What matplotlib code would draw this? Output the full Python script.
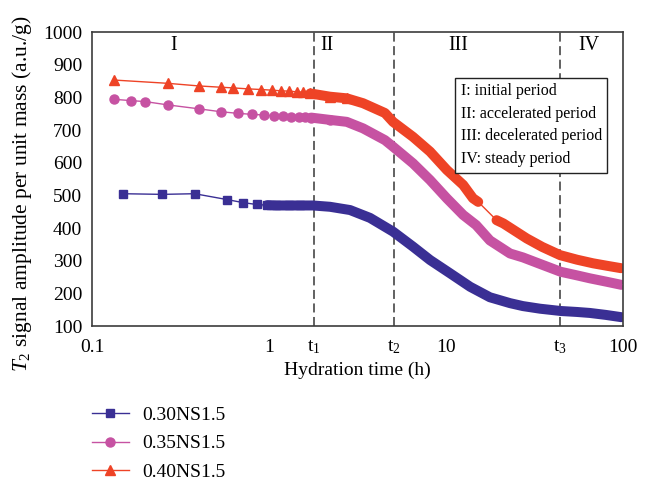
import numpy as np
import matplotlib.pyplot as plt
from matplotlib.lines import Line2D

plt.rcParams['font.family'] = ['Liberation Serif', 'DejaVu Serif']
plt.rcParams['mathtext.fontset'] = 'custom'
plt.rcParams['mathtext.rm'] = 'Liberation Serif'
plt.rcParams['mathtext.it'] = 'Liberation Serif:italic'

# values (hydration time in h, amplitude in a.u./g)
t30 = [0.149, 0.25, 0.38, 0.58, 0.71, 0.85, 0.98, 1.1, 1.3, 1.5, 1.77, 2.21, 2.87, 3.72,
       5.02, 6.51, 8.13, 10.5, 13.7, 17.7, 23.0, 27.2, 34, 44.5, 55, 65, 80, 98]
v30 = [505, 503, 505, 487, 478, 472, 470, 469, 469, 469, 469, 465, 455, 431,
       389, 343, 302, 262, 220, 188, 170, 161, 153, 146, 143, 140, 134, 127]

t35 = [0.133, 0.166, 0.2, 0.267, 0.4, 0.533, 0.667, 0.8, 0.933, 1.067, 1.2, 1.33, 1.47, 1.6,
       1.73, 2.21, 2.75, 3.40, 4.52, 5.02, 6.51, 8.12, 10.1, 12.5, 14.8, 17.7, 23.0, 27.2,
       34, 44.5, 55, 65, 80, 98]
v35 = [794, 790, 787, 777, 765, 756, 751, 748, 746, 743, 742, 740, 739, 739,
       738, 731, 725, 705, 669, 649, 598, 547, 491, 440, 409, 362, 322, 310,
       290, 266, 255, 246, 236, 226]

t40 = [0.133, 0.267, 0.4, 0.533, 0.626, 0.758, 0.90, 1.035, 1.17, 1.30, 1.43, 1.56, 1.71,
       2.21, 2.75, 3.40, 4.52, 5.02, 6.51, 8.12, 10.1, 12.5, 14.2, 15.2,
       19.3, 21.1, 28.6, 35, 44.1, 55, 67.7, 82, 97.6]
v40 = [853, 843, 835, 831, 829, 826, 824, 822, 820, 819, 817, 816, 812,
       802, 797, 782, 752, 725, 679, 634, 578, 532, 491, 480,
       424, 414, 368, 342, 317, 303, 292, 284, 277]

labels = ['0.30NS1.5', '0.35NS1.5', '0.40NS1.5']

t_marks = [1.79, 5.08, 44.0]
t_names = ['t$_1$', 't$_2$', 't$_3$']

periods = ['I', 'II', 'III', 'IV']
period_x = [0.29, 2.12, 11.8, 64]

box_lines = ['I: initial period', 'II: accelerated period',
             'III: decelerated period', 'IV: steady period']

# where the points get so close they merge into a band
dense30 = [(6, len(t30))]
dense35 = [(14, len(t35))]
dense40 = [(12, 24), (24, len(t40))]
# markers still visible one by one
shown30 = 10
shown35 = 16
shown40 = 15

cols = ['#3a2f94', '#c652a2', '#ee4326']
marks = ['s', 'o', '^']
sizes = [6, 6.5, 7.5]

fig = plt.figure(figsize=(6.54, 4.8), dpi=100)
ax = fig.add_axes([0.1407, 0.3208, 0.8119, 0.6125])

series = [(t30, v30, dense30, shown30), (t35, v35, dense35, shown35),
          (t40, v40, dense40, shown40)]
handles = []
for (t, v, dense, shown), c, m, s in zip(series, cols, marks, sizes):
    ax.plot(t, v, color=c, lw=1, marker=m, ms=s, mec=c, mfc=c, zorder=3,
            markevery=list(range(shown)))
    for a, b in dense:
        ax.plot(t[a:b], v[a:b], color=c, lw=7.2, solid_capstyle='round', zorder=2)
    handles.append(Line2D([], [], color=c, lw=1, marker=m, ms=s, mec=c, mfc=c))

for t in t_marks:
    ax.axvline(t, color='#555555', lw=1.3, ls=(0, (5, 2.5)), zorder=1)

for name, x in zip(periods, period_x):
    ax.text(x, 0.955, name, transform=ax.get_xaxis_transform(), ha='center', va='center',
            fontsize=14.5)

ax.text(0.694, 0.826, '\n'.join(box_lines), transform=ax.transAxes, fontsize=11.5,
        va='top', ha='left', linespacing=1.55, zorder=5,
        bbox=dict(boxstyle='square,pad=0.35', fc='white', ec='#222222', lw=1))

ax.set_xscale('log')
ax.set_xlim(0.1, 100)
ax.set_ylim(100, 1000)
ax.set_yticks(np.arange(100, 1001, 100))
xt = [0.1, 1, 10, 100] + t_marks
xl = ['0.1', '1', '10', '100'] + t_names
ax.set_xticks(xt)
ax.set_xticklabels(xl)
ax.minorticks_off()
ax.tick_params(axis='both', length=0, labelsize=14)
ax.tick_params(axis='x', pad=9)
ax.tick_params(axis='y', pad=7)

for sp in ax.spines.values():
    sp.set_color('#3c3c3c')
    sp.set_linewidth(1.2)

ax.set_xlabel('Hydration time (h)', fontsize=14, labelpad=4)
ax.set_ylabel('$T_2$ signal amplitude per unit mass (a.u./g)', fontsize=15.5)
ax.yaxis.set_label_coords(-0.11, 0.45)

fig.legend(handles, labels, loc='upper left', bbox_to_anchor=(0.1407, 0.153),
           frameon=False, fontsize=14, handlelength=1.9, handletextpad=0.7,
           borderpad=0, borderaxespad=0, labelspacing=0.55)

fig.savefig('out.png', dpi=100)
